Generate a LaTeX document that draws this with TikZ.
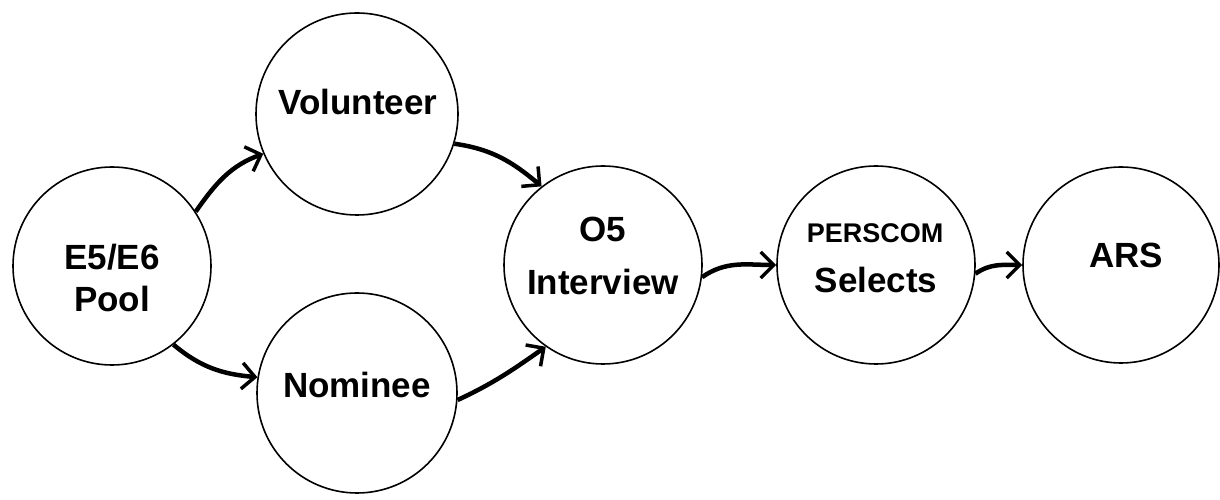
\documentclass[tikz,border=0pt]{standalone}
\usepackage{fontspec}
\setmainfont{Liberation Sans}
\usetikzlibrary{arrows.meta}
\begin{document}
\begin{tikzpicture}[x=1pt,y=1pt,
  state/.style={circle,draw,line width=1.6pt,minimum size=198pt,inner sep=0pt},
  lbl/.style={font=\fontsize{35}{40}\selectfont\bfseries,anchor=base,inner sep=0pt},
  smalllbl/.style={font=\fontsize{27}{30}\selectfont\bfseries,anchor=base,inner sep=0pt},
  flow/.style={line width=4.5pt,-{Straight Barb[length=13pt,width=26pt,line width=3.5pt]}}]
\useasboundingbox (0,0) rectangle (1220,500);
\node[state] (e5) at (112,234) {};
\node[state,minimum size=202pt] (vol) at (357,386) {};
\node[state,minimum size=200pt] (nom) at (357,107) {};
\node[state] (o5) at (603,235) {};
\node[state] (pers) at (876,235) {};
\node[state,minimum size=196pt] (ars) at (1121,235) {};
\node[lbl] (t1) at (112,230) {E5/E6};
\node[lbl] (t2) at (112,188) {Pool};
\node[lbl] (t3) at (358,385) {Volunteer};
\node[lbl] (t4) at (357,102) {Nominee};
\node[lbl] (t5) at (603,258) {O5};
\node[lbl] (t6) at (603,205) {Interview};
\node[smalllbl] (t7) at (875,257) {PERSCOM};
\node[lbl] (t8) at (876,207) {Selects};
\node[lbl] (t9) at (1126,232) {ARS};
\draw[flow] (e5.33) to[out=55,in=200] (vol.203);
\draw[flow] (e5.-52) to[out=-40,in=175] (nom.171);
\draw[flow] (vol.-17) to[out=-8,in=140] (o5.128);
\draw[flow] (nom.-4) to[out=25,in=215] (o5.-125);
\draw[flow] (o5.-7) to[out=35,in=180] (pers.180);
\draw[flow] (pers.-5) to[out=35,in=180] (ars.180);
\end{tikzpicture}
\end{document}
